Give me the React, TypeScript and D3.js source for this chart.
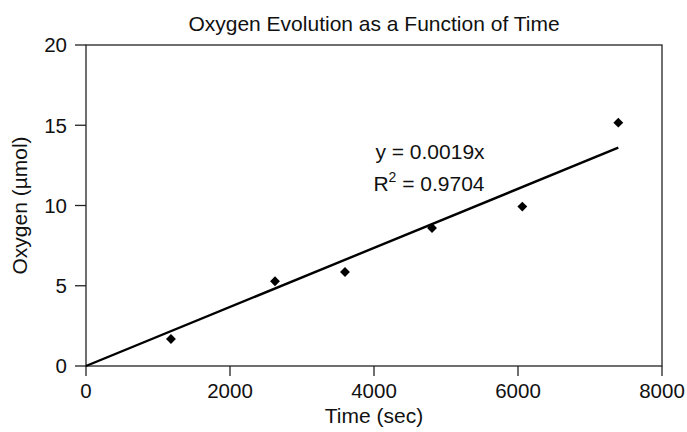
import React from "react";
import * as d3 from "d3";

const timeSec = [1180, 2625, 3597, 4806, 6060, 7393];
const oxygen = [1.68, 5.28, 5.86, 8.6, 9.93, 15.16];
const xTicks = [0, 2000, 4000, 6000, 8000];
const yTicks = [0, 5, 10, 15, 20];
const slope = 0.00184;

export default function App() {
  const W = 687, H = 432;
  const x = d3.scaleLinear().domain([0, 8000]).range([86, 662]);
  const y = d3.scaleLinear().domain([0, 20]).range([366, 45]);
  const font = "Liberation Sans, Arial, sans-serif";
  const xMax = d3.max(timeSec) as number;
  const line = d3.line<number>().x((d) => x(d)).y((d) => y(slope * d));
  const diamond = d3.symbol().type(d3.symbolDiamond2).size(62);
  return (
    <svg width={W} height={H} style={{ position: "absolute", left: 0, top: 0 }} fontFamily={font} fill="#111">
      <rect x={0} y={0} width={W} height={H} fill="#fff" />
      <text x={374} y={31} textAnchor="middle" fontSize={21}>Oxygen Evolution as a Function of Time</text>
      <rect x={x(0)} y={y(20)} width={x(8000) - x(0)} height={y(0) - y(20)} fill="none" stroke="#222" strokeWidth={1.3} />
      {yTicks.map((t) => (
        <g key={"y" + t}>
          <line x1={x(0) - 11} x2={x(0)} y1={y(t)} y2={y(t)} stroke="#222" strokeWidth={1.3} />
          <text x={67} y={y(t)} dy="0.36em" textAnchor="end" fontSize={20.5}>{t}</text>
        </g>
      ))}
      {xTicks.map((t) => (
        <g key={"x" + t}>
          <line x1={x(t)} x2={x(t)} y1={y(0)} y2={y(0) + 10} stroke="#222" strokeWidth={1.3} />
          <text x={x(t)} y={398} textAnchor="middle" fontSize={20.5}>{t}</text>
        </g>
      ))}
      <text x={374} y={423} textAnchor="middle" fontSize={21}>Time (sec)</text>
      <text transform={`translate(27,${(y(0) + y(20)) / 2}) rotate(-90)`} textAnchor="middle" fontSize={21}>Oxygen (µmol)</text>
      <path d={line([0, xMax]) || ""} fill="none" stroke="#000" strokeWidth={2.4} />
      {timeSec.map((t, i) => (
        <path key={i} d={diamond() || ""} transform={`translate(${x(t)},${y(oxygen[i])})`} fill="#000" />
      ))}
      <text x={430} y={159} textAnchor="middle" fontSize={21}>y = 0.0019x</text>
      <text x={429} y={191} textAnchor="middle" fontSize={21}>
        R<tspan dy={-9} fontSize={14}>2</tspan><tspan dy={9}> = 0.9704</tspan>
      </text>
    </svg>
  );
}
